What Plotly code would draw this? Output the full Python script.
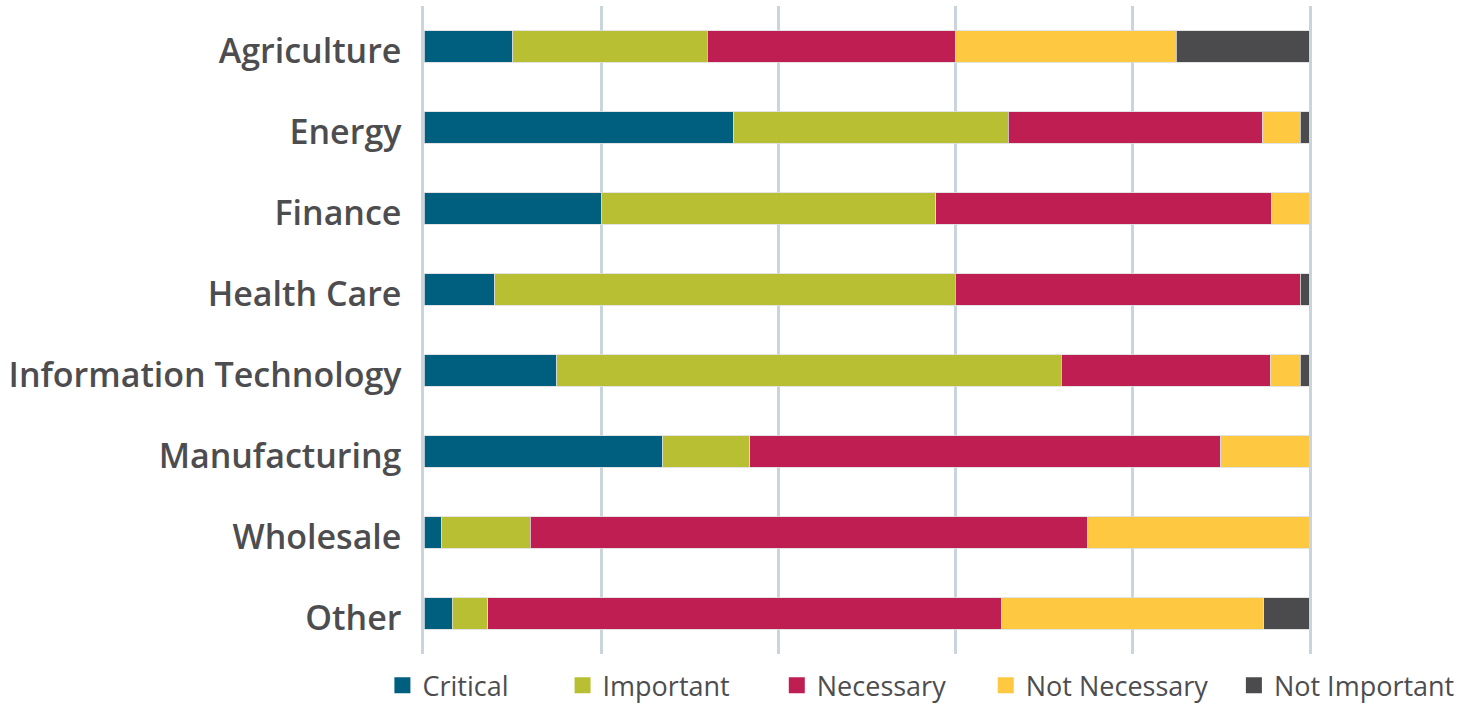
import plotly.graph_objects as go

industries = ["Agriculture", "Energy", "Finance", "Health Care",
              "Information Technology", "Manufacturing", "Wholesale", "Other"]
series_names = ["Critical", "Important", "Necessary", "Not Necessary", "Not Important"]
critical      = [10, 35, 20, 8, 15, 27, 2, 3.2]
important     = [22, 31, 37.8, 52, 57, 9.8, 10, 4]
necessary     = [28, 28.8, 38, 39, 23.6, 53.2, 63, 58]
not_necessary = [25, 4.2, 4.2, 0, 3.4, 10, 25, 29.7]
not_important = [15, 1, 0, 1, 1, 0, 0, 5.1]
colors = ["#005f7e", "#b9bf33", "#be1e52", "#fec841", "#4b4b4d"]

values = [critical, important, necessary, not_necessary, not_important]
pads = [7, 6, 5, 3, 0]

fig = go.Figure()
for name, vals, col in zip(series_names, values, colors):
    fig.add_trace(go.Bar(
        y=industries, x=vals, name=name, orientation="h",
        marker=dict(color=col, line=dict(color="#dcdcdc", width=0.8)),
        legendgroup=name, showlegend=False,
    ))
for name, col, p in zip(series_names, colors, pads):
    fig.add_trace(go.Scatter(
        x=[None], y=[None], mode="markers", name=name + "\u00a0" * p, legendgroup=name,
        marker=dict(symbol="square", size=20, color=col, line=dict(width=0)),
    ))

grid_col = "#c9d4dc"
fig.update_layout(
    width=1476, height=704,
    barmode="stack", bargap=0.617,
    plot_bgcolor="white", paper_bgcolor="white",
    margin=dict(l=424, r=167, t=6, b=50, autoexpand=False),
    font=dict(family="Open Sans", color="#4d4d4f"),
    xaxis=dict(range=[0, 100], dtick=20, showticklabels=False,
               showgrid=True, gridcolor=grid_col, gridwidth=2.5,
               zeroline=False, showline=False, fixedrange=True),
    yaxis=dict(autorange="reversed", showgrid=False, ticks="",
               showline=True, linecolor=grid_col, linewidth=2.5, mirror=True,
               ticklabelstandoff=13, ticklabelshift=-5, fixedrange=True,
               tickfont=dict(size=34, family="Open Sans", weight=600, color="#4d4d4f")),
    legend=dict(orientation="h", x=-0.047, xanchor="left", y=-0.049, yanchor="middle",
                font=dict(size=27, family="Open Sans", weight=500, color="#4d4d4f"),
                itemclick=False, itemdoubleclick=False, tracegroupgap=0),
    showlegend=True,
)

fig.write_html("out.html", config={"displayModeBar": False},
               post_script="document.body.style.margin='0';")
